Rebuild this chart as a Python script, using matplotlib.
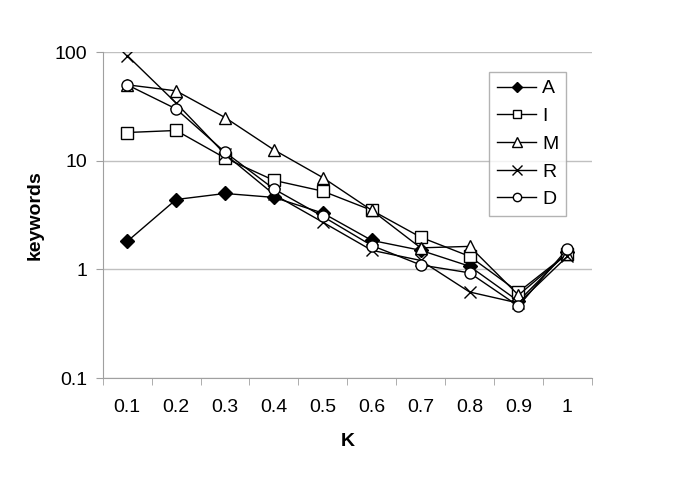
import numpy as np
import matplotlib
matplotlib.use("Agg")
import matplotlib.pyplot as plt

plt.rcParams["font.family"] = ["Liberation Sans", "DejaVu Sans"]

k_labels = ["0.1", "0.2", "0.3", "0.4", "0.5", "0.6", "0.7", "0.8", "0.9", "1"]
A = [1.81, 4.4, 5.0, 4.6, 3.3, 1.85, 1.5, 1.07, 0.51, 1.45]
I = [18.2, 19.0, 10.6, 6.6, 5.25, 3.5, 1.98, 1.32, 0.62, 1.4]
M = [50.0, 44.0, 25.0, 12.6, 7.0, 3.5, 1.58, 1.63, 0.58, 1.4]
R = [93.0, 34.0, 11.5, 4.9, 2.72, 1.5, 1.21, 0.62, 0.49, 1.32]
D = [50.0, 30.0, 12.0, 5.5, 3.07, 1.66, 1.1, 0.93, 0.46, 1.55]

series = [("A", A, "D", "k"), ("I", I, "s", "w"), ("M", M, "^", "w"),
          ("R", R, "x", "k"), ("D", D, "o", "w")]
msize = {"D": 7, "s": 8, "^": 9, "x": 9, "o": 8}

fig = plt.figure(figsize=(6.85, 4.78), dpi=100)
ax = fig.add_axes([0.150, 0.209, 0.714, 0.682])
x = np.arange(len(k_labels))

for name, vals, mk, fc in series:
    ax.plot(x, vals, color="k", lw=1.0, marker=mk, ms=msize[mk],
            mfc=fc, mec="k", mew=1.0, label=name)

ax.set_yscale("log")
ax.set_ylim(0.1, 100)
ax.set_xlim(-0.5, len(k_labels) - 0.5)
ax.set_yticks([0.1, 1, 10, 100])
ax.set_yticklabels(["0.1", "1", "10", "100"])
ax.yaxis.set_minor_locator(matplotlib.ticker.NullLocator())
ax.set_xticks(x)
ax.set_xticklabels(k_labels)
ax.set_xticks(np.arange(len(k_labels) + 1) - 0.5, minor=True)
ax.tick_params(axis="x", which="major", length=0, pad=15, labelsize=14)
ax.tick_params(axis="x", which="minor", length=5, color="#a0a0a0")
ax.tick_params(axis="y", length=5, color="#a0a0a0", labelsize=14, pad=6)
ax.grid(axis="y", which="major", color="#c0c0c0", lw=1.0)
ax.set_axisbelow(True)
for s in ["top", "right"]:
    ax.spines[s].set_visible(False)
for s in ["left", "bottom"]:
    ax.spines[s].set_color("#a0a0a0")

ax.set_xlabel("K", fontsize=14, fontweight="bold", labelpad=12)
ax.set_ylabel("keywords", fontsize=14, fontweight="bold", labelpad=8)

leg = ax.legend(loc="upper right", bbox_to_anchor=(0.947, 0.939), fontsize=14,
                frameon=True, fancybox=False, edgecolor="#a0a0a0",
                handlelength=2.0, borderpad=0.4, labelspacing=0.52,
                handletextpad=0.3, markerscale=0.75, borderaxespad=0)
leg.get_frame().set_linewidth(1.0)

fig.savefig("out.png", dpi=100)
